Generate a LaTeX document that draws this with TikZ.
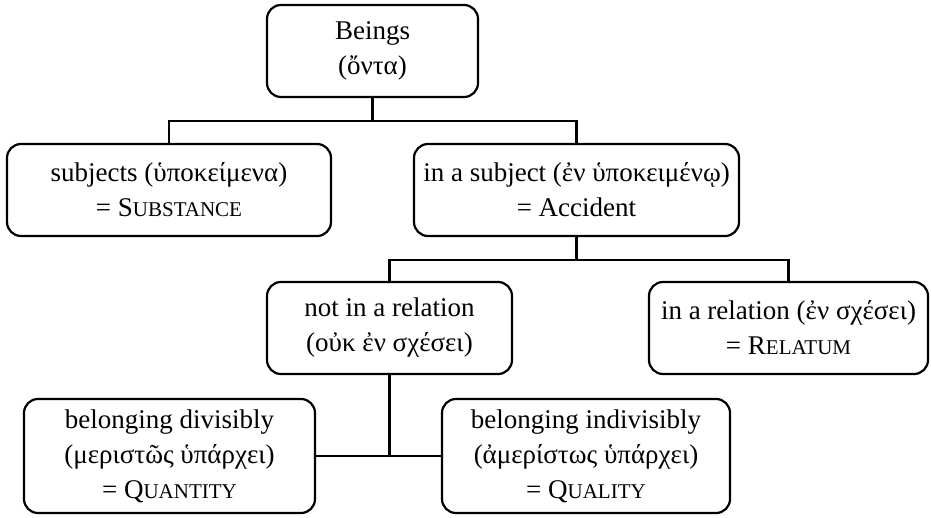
\documentclass[tikz,border=0pt]{standalone}
\usepackage{fontspec}
\setmainfont{Liberation Serif}
\usetikzlibrary{calc}
% small capitals built from two sizes of the upright face
\newcommand\fakesc[2]{#1{\fontsize{21}{21}\selectfont #2}}
\tikzset{
  catbox/.style={draw, rectangle, rounded corners=14pt, line width=2.2pt,
    inner sep=0pt, align=center, minimum height=92pt,
    font=\fontsize{27}{35}\selectfont},
  conn/.style={draw, line width=2.2pt}
}
\begin{document}
\begin{tikzpicture}[x=1pt,y=-1pt]
  \useasboundingbox (0,0) rectangle (931,518);

  \node[catbox, minimum width=211pt] (beings) at (372.5,51) {Beings\\(ὄντα)};
  \node[catbox, minimum width=324pt] (subj) at (169,190)
    {subjects (ὑποκείμενα)\\= \fakesc{S}{UBSTANCE}};
  \node[catbox, minimum width=325pt] (acc) at (576.5,190)
    {in a subject (ἐν ὑποκειμένῳ)\\= Accident};
  \node[catbox, minimum width=245pt] (notrel) at (389.5,328)
    {not in a relation\\(οὐκ ἐν σχέσει)};
  \node[catbox, minimum width=279pt] (rel) at (788.5,328)
    {in a relation (ἐν σχέσει)\\= \fakesc{R}{ELATUM}};
  \node[catbox, minimum width=291pt, minimum height=114pt] (quant) at (169.5,456)
    {belonging divisibly\\(μεριστῶς ὑπάρχει)\\= \fakesc{Q}{UANTITY}};
  \node[catbox, minimum width=288pt, minimum height=114pt] (qual) at (586,456)
    {belonging indivisibly\\(ἀμερίστως ὑπάρχει)\\= \fakesc{Q}{UALITY}};

  % first division
  \coordinate (j1) at ($(beings.south)+(0,23)$);
  \draw[conn] (beings.south) -- (j1);
  \draw[conn] (subj.north) |- (j1) -| (acc.north);

  % division of accidents
  \coordinate (j2) at ($(acc.south)+(0,23)$);
  \draw[conn] (acc.south) -- (j2);
  \draw[conn] (notrel.north) |- (j2) -| (rel.north);

  % division of the non-relative
  \draw[conn] (notrel.south) -- (notrel.south |- quant.east);
  \draw[conn] (quant.east) -- (qual.west);
\end{tikzpicture}
\end{document}
